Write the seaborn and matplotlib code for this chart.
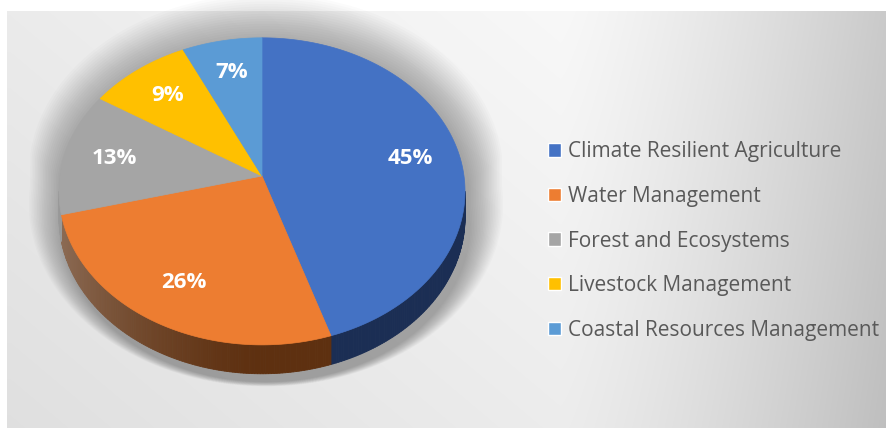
import numpy as np
import matplotlib
matplotlib.use("Agg")
import matplotlib.pyplot as plt
import seaborn as sns
from matplotlib.patches import Patch

# data
categories = ["Climate Resilient Agriculture", "Water Management",
              "Forest and Ecosystems", "Livestock Management",
              "Coastal Resources Management"]
shares = [45, 26, 13, 9, 7]
labels = ["45%", "26%", "13%", "9%", "7%"]

colors = sns.color_palette(["#4472C4", "#ED7D31", "#A5A5A5", "#FFC000", "#5B9BD5"])
side_colors = ["#1B2E54", "#5E3010", "#6E6E6E", "#9C7500", "#2F5F8A"]

sns.set_theme(style="white")
plt.rcParams["font.family"] = ["Open Sans", "DejaVu Sans"]

W, H = 886, 428
fig = plt.figure(figsize=(W / 100, H / 100), dpi=100)
fig.patch.set_facecolor("white")
ax = fig.add_axes([0, 0, 1, 1])
ax.set_xlim(0, W)
ax.set_ylim(H, 0)
ax.axis("off")

# gradient background panel
xx, yy = np.meshgrid(np.arange(7, W), np.arange(11, H))
v = (0.972
     - 0.18 * np.clip((xx - 560) / 326, 0, 1) ** 1.3
     - 0.05 * np.clip((560 - xx) / 550, 0, 1)
     - 0.045 * (yy - 11) / 417)
ax.imshow(np.dstack([v, v, v]), extent=[7, W, H, 11], aspect="auto", zorder=0)

# 3d pie geometry (perspective tilt)
cx, cy = 262, 176
sx, sy = 202, 152
persp = 0.1
depth = 26


def proj(theta, r=1.0):
    t = np.radians(theta)
    X, Y = r * np.cos(t), r * np.sin(t)
    d = 1 + persp * Y
    return cx + sx * X / d, cy - sy * Y / d, d


# soft shadow, mostly below the pie
th = np.linspace(0, 360, 400)
px0, py0, d0 = proj(th)
py0 = py0 + np.where(np.sin(np.radians(th)) < 0, depth / d0, 0)
scx, scy = cx, cy + 170
for k in range(1, 22):
    s = 1 + 0.008 * k
    ax.fill(scx + (px0 - scx) * s + 4, scy + (py0 - scy) * s + 8,
            color="black", alpha=0.016, lw=0, zorder=1)

bounds = 90 - 3.6 * np.concatenate([[0], np.cumsum(shares)])
vis_lo, vis_hi = -174.3, -5.7

# side walls
for i in range(len(shares)):
    t0, t1 = bounds[i], bounds[i + 1]
    lo, hi = max(t1, vis_lo), min(t0, vis_hi)
    if lo >= hi:
        continue
    base = np.array(matplotlib.colors.to_rgb(side_colors[i]))
    steps = np.linspace(lo, hi, max(int((hi - lo) / 0.7), 2))
    for a, b in zip(steps[:-1], steps[1:]):
        xa, ya, da = proj(a)
        xb, yb, db = proj(b)
        m = np.cos(np.radians((a + b) / 2))
        c = base + (1 - base) * 0.3 * max(0, -m) ** 1.5
        ax.fill([xa, xb, xb, xa], [ya, yb, yb + depth / db, ya + depth / da],
                color=c, lw=0.6, ec=c, zorder=2)

# top faces
for i in range(len(shares)):
    arc = np.linspace(bounds[i], bounds[i + 1], 120)
    px, py, _ = proj(arc)
    ax.fill(np.r_[cx, px], np.r_[cy, py], color=colors[i], lw=0.5,
            ec=colors[i], zorder=3)

# value labels
for i, lab in enumerate(labels):
    mid = (bounds[i] + bounds[i + 1]) / 2
    lx, ly, _ = proj(mid, 0.75)
    ax.text(lx, ly, lab, color="white", fontsize=16, fontweight="bold",
            ha="center", va="center", zorder=4)

handles = [Patch(facecolor=colors[i], label=categories[i]) for i in range(len(shares))]
ax.legend(handles=handles, loc="center left", bbox_to_anchor=(538 / W, 1 - 241 / H),
          frameon=False, fontsize=15, labelcolor="#595959", handlelength=0.62,
          handleheight=0.62, handletextpad=0.3, labelspacing=1.13, borderpad=0)

fig.savefig("out.png", dpi=100)
